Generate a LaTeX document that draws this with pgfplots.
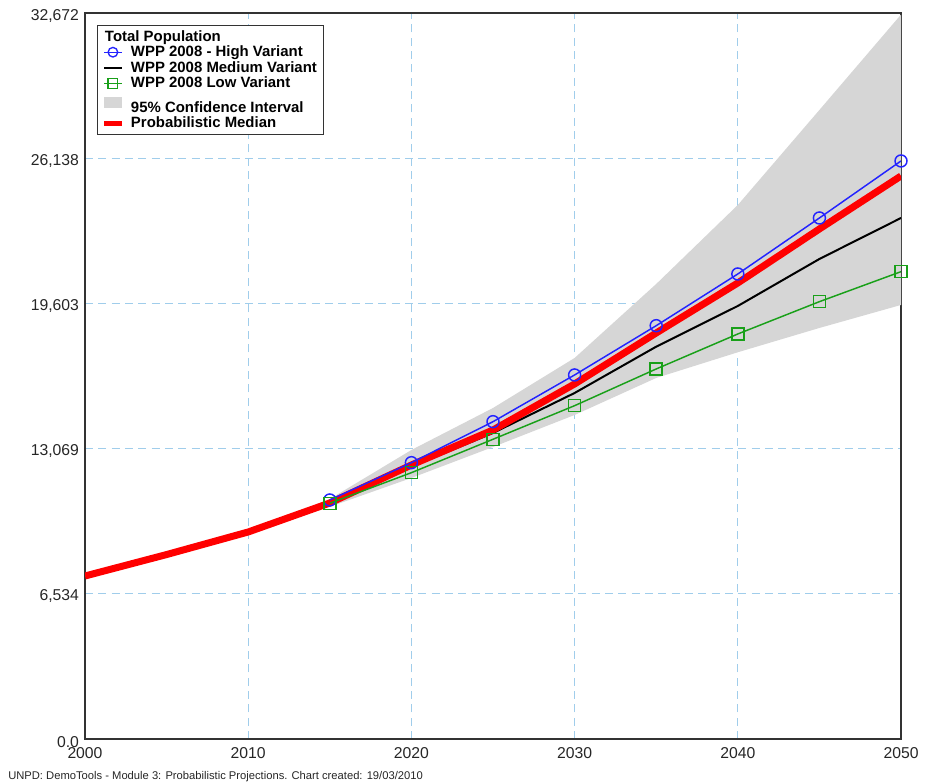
\documentclass[border=0pt]{standalone}
\usepackage{fontspec}
\setmainfont{Liberation Sans}
\usepackage{pgfplots}
\pgfplotsset{compat=1.18}
\usepgfplotslibrary{fillbetween}
\definecolor{gridblue}{RGB}{160,205,235}
\definecolor{bandgray}{RGB}{214,214,214}
\definecolor{hiblue}{RGB}{35,35,255}
\definecolor{logreen}{RGB}{25,160,25}
\definecolor{medred}{RGB}{255,0,0}
\begin{document}
\begin{tikzpicture}
\begin{axis}[
  at={(63.75pt,33.75pt)}, anchor=south west,
  width=612pt, height=544.5pt, scale only axis,
  xmin=2000, xmax=2050, ymin=0, ymax=32672,
  xtick={2000,2010,2020,2030,2040,2050},
  xticklabels={2000,2010,2020,2030,2040,2050},
  ytick={0,6534.4,13068.8,19603.2,26137.6,32672},
  yticklabels={0.0,{6,534},{13,069},{19,603},{26,138},{32,672}},
  /pgf/number format/assume math mode=true,
  major tick length=0pt,
  grid=major,
  major grid style={gridblue, dash pattern=on 6pt off 4pt, line width=0.6pt},
  axis line style={black!80, line width=1pt},
  tick label style={font=\fontsize{11.8}{13}\selectfont, text=black!85},
  yticklabel style={xshift=-1pt, yshift=-2pt},
  xticklabel style={yshift=-2.5pt},
  clip=true,
  legend cell align=left,
  legend style={at={(0,1)}, anchor=north west, xshift=9pt, yshift=-9pt,
    draw=black!80, line width=0.8pt, font=\fontsize{11.2}{12}\selectfont\bfseries,
    row sep=-1.9pt, column sep=3pt, inner xsep=3pt, inner ysep=1.5pt},
  legend image code/.code={\draw[mark repeat=2,mark phase=2]
     plot coordinates {(0cm,0cm) (0.23cm,0cm) (0.46cm,0cm)};},
]
% legend entries
\addlegendimage{empty legend}
\addlegendentry{\hspace*{-19.5pt}Total Population}
\addlegendimage{hiblue, line width=1pt, mark=o, mark size=3.6pt, mark options={solid, line width=1pt}}
\addlegendentry{WPP 2008 - High Variant}
\addlegendimage{black, line width=1.5pt}
\addlegendentry{WPP 2008 Medium Variant}
\addlegendimage{logreen, line width=1pt, mark=square, mark size=3.6pt, mark options={solid, line width=1pt}}
\addlegendentry{WPP 2008 Low Variant}
\addlegendimage{legend image code/.code={\fill[bandgray] (0cm,-0.12cm) rectangle (0.46cm,0.14cm);}}
\addlegendentry{\rule{0pt}{14.5pt}95\% Confidence Interval}
\addlegendimage{medred, line width=4pt}
\addlegendentry{Probabilistic Median}

% confidence band
\addplot[name path=upper, draw=none, forget plot] coordinates {
 (2010,9316) (2015,10800) (2020,13006) (2025,14896) (2030,17147)
 (2035,20477) (2040,24032) (2045,28308) (2050,32600)};
\addplot[name path=lower, draw=none, forget plot] coordinates {
 (2010,9316) (2015,10450) (2020,11746) (2025,13141) (2030,14581)
 (2035,16247) (2040,17403) (2045,18497) (2050,19532)};
\addplot[bandgray, forget plot] fill between[of=upper and lower];

% medium variant
\addplot[black, line width=1.5pt, forget plot] coordinates {
 (2010,9316) (2015,10650) (2020,12250) (2025,13771) (2030,15571)
 (2035,17655) (2040,19487) (2045,21602) (2050,23447)};
% probabilistic median
\addplot[medred, line width=5.25pt, forget plot] coordinates {
 (2000,7335) (2005,8300) (2010,9316) (2015,10621) (2020,12331)
 (2025,13906) (2030,15977) (2035,18272) (2040,20522) (2045,22952) (2050,25337)};
% high variant
\addplot[hiblue, line width=1.1pt, mark=o, mark size=4.5pt, mark options={solid, line width=1.1pt}, forget plot] coordinates {
 (2015,10756) (2020,12435) (2025,14280) (2030,16382) (2035,18600)
 (2040,20927) (2045,23447) (2050,26013)};
% low variant
\addplot[logreen, line width=1.1pt, mark=square, mark size=4.5pt, mark options={solid, line width=1.1pt}, forget plot] coordinates {
 (2015,10608) (2020,11985) (2025,13488) (2030,15000) (2035,16652)
 (2040,18227) (2045,19681) (2050,21031)};
\end{axis}
\node[anchor=base west, inner sep=0pt, font=\fontsize{8.4}{9.6}\selectfont, text=black!85] at (6pt,3.5pt)
  {UNPD: DemoTools - Module 3: Probabilistic Projections. Chart created: 19/03/2010};
\pgfresetboundingbox
\path[use as bounding box] (0,0) rectangle (693.75pt,588pt);
\end{tikzpicture}
\end{document}
